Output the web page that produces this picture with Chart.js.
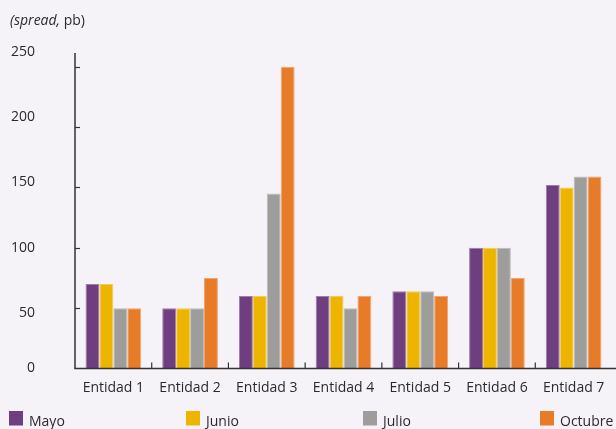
<!DOCTYPE html>
<html>
<head>
<meta charset="utf-8">
<script src="https://cdn.jsdelivr.net/npm/chart.js@4"></script>
<style>
  html, body { margin: 0; padding: 0; background: #f5f3f7; }
  canvas { display: block; }
</style>
</head>
<body>
<canvas id="mainChart" width="616" height="429"></canvas>
<script>
// datos del gráfico
var categories = ['Entidad 1', 'Entidad 2', 'Entidad 3', 'Entidad 4', 'Entidad 5', 'Entidad 6', 'Entidad 7'];
var seriesNames = ['Mayo', 'Junio', 'Julio', 'Octubre'];
var mayo    = [70, 50, 60, 60, 64, 100, 152];
var junio   = [70, 50, 60, 60, 64, 100, 150];
var julio   = [50, 50, 145, 50, 64, 100, 159];
var octubre = [50, 75, 250, 60, 60, 75, 159];
var yTicks  = [0, 50, 100, 150, 200, 250];

var colors  = ['#6e3e7f', '#eeb500', '#9d9d9b', '#e77b27'];
var borders = ['#9c7ca9', '#f3cb5a', '#bcbcbb', '#eea573'];
var textColor = '#2a2a2a';
var axisColor = '#333333';
var fontFamily = '"Open Sans", Lato, sans-serif';

// ejes, marcas, etiquetas del eje y, título y leyenda
var decor = {
    id: 'decor',
    afterDraw: function(chart) {
        var ctx = chart.ctx;
        var x = chart.scales.x, y = chart.scales.y;
        var area = chart.chartArea;
        ctx.save();
        ctx.strokeStyle = axisColor;
        ctx.lineWidth = 1.5;

        // eje y
        ctx.beginPath();
        ctx.moveTo(area.left, area.top);
        ctx.lineTo(area.left, area.bottom);
        ctx.stroke();
        // eje x
        ctx.beginPath();
        ctx.moveTo(area.left - 0.75, area.bottom);
        ctx.lineTo(chart.width, area.bottom);
        ctx.stroke();

        ctx.lineWidth = 1.2;
        // marcas del eje y (hacia dentro)
        yTicks.forEach(function(v) {
            if (v === 0) return;
            var py = Math.round(y.getPixelForValue(v)) + 0.5;
            ctx.beginPath();
            ctx.moveTo(area.left, py);
            ctx.lineTo(area.left + 5, py);
            ctx.stroke();
        });
        // marcas del eje x entre categorías
        for (var i = 1; i < categories.length; i++) {
            var px = (x.getPixelForValue(i - 1) + x.getPixelForValue(i)) / 2;
            ctx.beginPath();
            ctx.moveTo(px, area.bottom);
            ctx.lineTo(px, area.bottom - 6);
            ctx.stroke();
        }

        // etiquetas del eje y (algo desplazadas respecto de las marcas, como en el original)
        ctx.fillStyle = textColor;
        ctx.font = '14px ' + fontFamily;
        ctx.textAlign = 'right';
        ctx.textBaseline = 'middle';
        yTicks.forEach(function(v) {
            var py = y.getPixelForValue(v);
            var ly = v === 0 ? py : area.bottom + 10 - (area.bottom - py) * 1.083;
            ctx.fillText(String(v), 35, ly);
        });

        // título del eje
        ctx.textAlign = 'left';
        ctx.textBaseline = 'alphabetic';
        ctx.font = 'italic 14px ' + fontFamily;
        ctx.fillText('(spread,', 10, 25);
        var w = ctx.measureText('(spread,').width;
        ctx.font = '14px ' + fontFamily;
        ctx.fillText(' pb)', 10 + w, 25);

        // leyenda
        chart.data.datasets.forEach(function(ds, i) {
            var lx = 9 + i * 177;
            ctx.fillStyle = ds.backgroundColor;
            ctx.fillRect(lx, 411, 14, 14.5);
            ctx.fillStyle = textColor;
            ctx.fillText(ds.label, lx + 20, 425.5);
        });
        ctx.restore();
    }
};

var seriesData = [mayo, junio, julio, octubre];

var ctx = document.getElementById('mainChart');
var myChart = new Chart(ctx, {
    type: 'bar',
    data: {
        labels: categories,
        datasets: seriesNames.map(function(name, i) {
            return {
                label: name,
                data: seriesData[i],
                backgroundColor: colors[i],
                borderColor: borders[i],
                borderWidth: 1,
                borderSkipped: 'start',
                barPercentage: 1,
                categoryPercentage: 0.726
            };
        })
    },
    options: {
        responsive: false,
        animation: false,
        devicePixelRatio: 1,
        layout: { padding: { left: 0, right: 4, top: 53, bottom: 0 } },
        plugins: {
            legend: { display: false },
            tooltip: { enabled: false }
        },
        scales: {
            x: {
                grid: { display: false, drawTicks: false },
                border: { display: false },
                ticks: {
                    color: textColor,
                    font: { family: fontFamily, size: 14 },
                    padding: 11,
                    maxRotation: 0
                },
                afterFit: function(scale) { scale.height = 60.5; }
            },
            y: {
                min: 0,
                max: 261.3,
                grid: { display: false, drawTicks: false },
                border: { display: false },
                ticks: { display: false, stepSize: 50 },
                afterFit: function(scale) { scale.width = 75; }
            }
        }
    },
    plugins: [decor]
});
</script>
</body>
</html>
